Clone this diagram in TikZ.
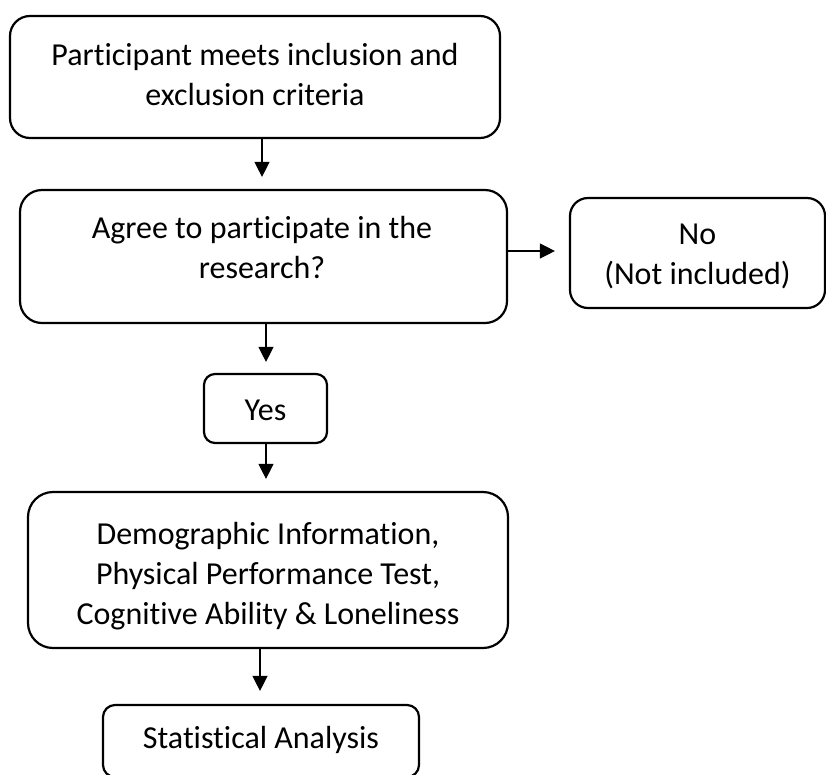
\documentclass[tikz,border=0pt]{standalone}
\usepackage{fontspec}
\setmainfont{Carlito}[Ligatures=NoCommon]
\usetikzlibrary{arrows.meta,calc}
\begin{document}
\begin{tikzpicture}[x=1pt,y=-1pt,
  box/.style={draw, line width=2.2pt, rounded corners=#1, inner sep=0pt},
  txt/.style={align=center, inner sep=0pt, font=\fontsize{32}{40}\selectfont},
  arr/.style={line width=1.3pt, -{Triangle[length=15pt,width=15pt]}}]
\useasboundingbox (0,0) rectangle (826,774);
% boxes
\node[box=20pt, minimum width=490pt, minimum height=122pt] (b1) at (255,77) {};
\node[box=22pt, minimum width=487pt, minimum height=133pt] (b2) at (263.5,256.5) {};
\node[box=18pt, minimum width=255pt, minimum height=110pt] (no) at (697.5,253) {};
\node[box=11pt, minimum width=123pt, minimum height=69pt] (yes) at (265.5,408.5) {};
\node[box=25pt, minimum width=480pt, minimum height=156pt] (b4) at (268,570) {};
\node[box=12pt, minimum width=316pt, minimum height=72pt] (st) at (261,741) {};
% texts
\node[txt] (t1) at (255,75) {Participant meets inclusion and\\exclusion criteria};
\node[txt] (t2) at (262,248) {Agree to participate in the\\research?};
\node[txt] (tno) at (697.5,256) {No\\(Not included)};
\node[txt] (tyes) at (265.5,410) {Yes};
\node[txt] (t4) at (268,576) {Demographic Information,\\Physical Performance Test,\\Cognitive Ability \& Loneliness};
\node[txt] (tst) at (261,740) {Statistical Analysis};
% connectors
\draw[arr, shorten >=12pt] ([xshift=7pt]b1.south) -- ([xshift=7pt]b1.south |- b2.north);
\draw[arr, shorten >=14pt] ([yshift=5.5pt]b2.east) -- ([yshift=5.5pt]b2.east -| no.west);
\draw[arr, shorten >=11pt] ([xshift=2.5pt]b2.south) -- ([xshift=2.5pt]b2.south |- yes.north);
\draw[arr, shorten >=12pt] ([xshift=0.5pt]yes.south) -- ([xshift=0.5pt]yes.south |- b4.north);
\draw[arr, shorten >=13pt] ([xshift=-8pt]b4.south) -- ([xshift=-8pt]b4.south |- st.north);
\end{tikzpicture}
\end{document}
